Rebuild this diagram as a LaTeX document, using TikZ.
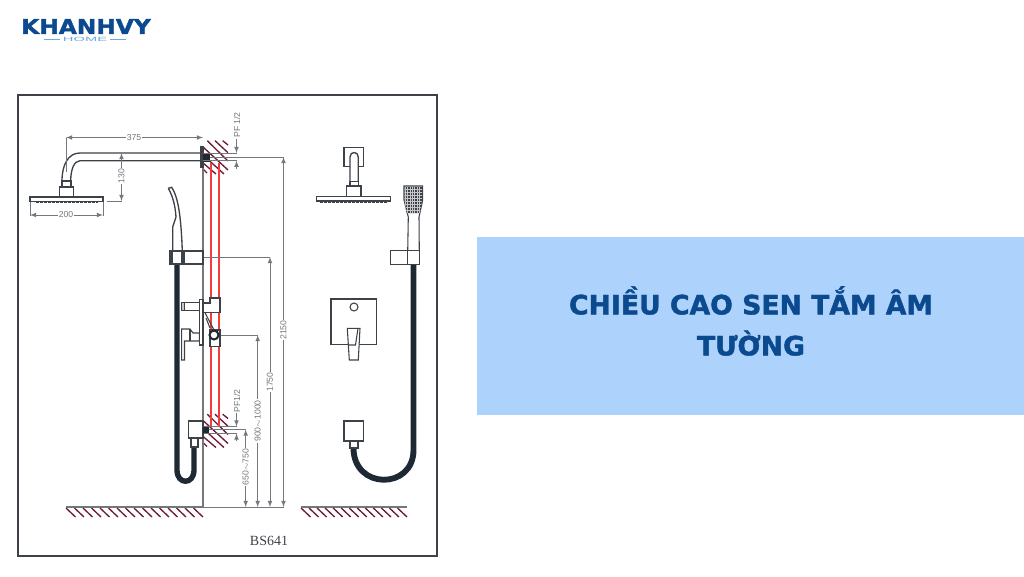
\documentclass[tikz,border=0pt]{standalone}
\usepackage{fontspec}
\setmainfont{Liberation Sans}
\newfontfamily\titlefont[BoldFeatures={FakeBold=1.6}]{DejaVu Sans}
\newfontfamily\modelfont{Liberation Serif}
\definecolor{brandblue}{HTML}{0B4A8F}
\definecolor{panelblue}{HTML}{ADD2FB}
\definecolor{homeblue}{HTML}{6FA8DC}
\definecolor{inkgray}{HTML}{3C4248}
\definecolor{dimgray}{HTML}{74787C}
\definecolor{hosedark}{HTML}{1F2933}
\definecolor{hatchred}{HTML}{6E1A38}
\definecolor{pipered}{HTML}{F53B3B}
\tikzset{
	ink/.style={draw=inkgray, line width=.8pt},
	dimline/.style={draw=dimgray, line width=.6pt},
	hatchline/.style={draw=hatchred, line width=1pt},
	hose/.style={draw=hosedark, line width=4pt},
	dimlabel/.style={fill=white, inner sep=.6pt, text=dimgray, font=\fontsize{6.5}{7}\selectfont},
}
\newcommand{\wbox}[4]{\draw[ink, fill=white] (#1,#2) rectangle (#3,#4);}
\newcommand{\dimv}[3]{\draw[dimline, latex-latex] (#1,#2) -- (#1,#3);}
\newcommand{\dimh}[3]{\draw[dimline, latex-latex] (#2,#1) -- (#3,#1);}
\newcommand{\wallhatch}[1]{
	\begin{scope}[shift={(0,#1)}]
		\draw[hatchline] (222.7,140.7) -- (228,145);
		\draw[hatchline] (215,140.7) -- (228,152.7);
		\draw[hatchline] (207.3,140.7) -- (228,161);
		\draw[hatchline] (203,147) -- (228,170);
		\draw[hatchline] (203,155) -- (224,174);
		\draw[hatchline] (203,163) -- (216,174);
		\draw[hatchline] (203,169) -- (207,173);
	\end{scope}
}
\newcommand{\ground}[3]{
	\draw[dimline, line width=.9pt] (#1,507) -- (#2,507);
	\foreach \n in {0,...,#3} {
		\draw[hatchline] (#1+\n*#2/#3-\n*#1/#3-\n*9.5/#3,508) -- (#1+\n*#2/#3-\n*#1/#3-\n*9.5/#3+9.5,517);
	}
}

\begin{document}
\begin{tikzpicture}[x=.75pt, y=-.75pt]
	\useasboundingbox (0,0) rectangle (1024,576);
	\fill[white] (0,0) rectangle (1024,576);

	\node[text=brandblue, font=\titlefont\bfseries\fontsize{15.2}{16}\selectfont, xscale=1.15, inner sep=0pt] (logo) at (86,26.5) {KHANHVY};
	\node[text=homeblue, font=\fontsize{4.6}{5}\selectfont, xscale=2.4, inner sep=0pt] (home) at (85,39.5) {HOME};
	\draw[homeblue, line width=1pt] (44,39.5) -- (60,39.5);
	\draw[homeblue, line width=1pt] (110,39.5) -- (126,39.5);

	\draw[inkgray, line width=1.1pt] (18,95) rectangle (437,556);

	\wallhatch{0}
	\wallhatch{273.5}
	\ground{66}{203}{15}
	\ground{301}{407}{12}

	\draw[pipered, line width=1.8pt] (211,163) -- (211,426);
	\draw[pipered, line width=1.3pt] (218.7,163) -- (218.7,426);

	\draw[dimline, line width=1.4pt] (203,147) -- (203,507);

	\draw[ink, line width=1pt] (203,153) -- (80,153) .. controls (68,153) and (62,165) .. (62,181);
	\draw[ink, line width=1pt] (203,160.7) -- (80,160.7) .. controls (74,160.7) and (70.7,170) .. (70.7,181);
	\wbox{62}{181}{71}{187}
	\wbox{59.5}{187}{73.5}{197}
	\wbox{30}{197}{103}{201.5}
	\draw[ink, dash pattern=on 2pt off 1pt] (36,202.5) -- (98,202.5);
	\draw[ink, fill=inkgray] (200.5,147) rectangle (203,167);
	\fill[hosedark] (203,153) rectangle (209.5,162);

	\dimh{137.5}{66}{203}
	\draw[dimline] (66,137.5) -- (66,172);
	\node[dimlabel] (lenarm) at (134,137.5) {375};
	\dimh{215}{30}{103}
	\draw[dimline] (30,201.5) -- (30,216);
	\draw[dimline] (103,201.5) -- (103,216);
	\node[dimlabel] (lenhead) at (66,215) {200};
	\dimv{121.5}{153}{201}
	\draw[dimline] (107,201) -- (121.5,201);
	\node[dimlabel, rotate=90] (lendrop) at (121.5,176) {130};

	\draw[dimline] (203,153) -- (237,153);
	\draw[dimline] (203,160.7) -- (237,160.7);
	\draw[dimline, -latex] (236.5,135) -- (236.5,153);
	\draw[dimline, -latex] (236.5,169) -- (236.5,160.7);
	\node[dimlabel, rotate=90] (pftop) at (237,125) {PF 1/2};
	\draw[dimline] (203,426.5) -- (237,426.5);
	\draw[dimline] (203,433.5) -- (237,433.5);
	\draw[dimline, -latex] (236.5,410) -- (236.5,426.5);
	\draw[dimline, -latex] (236.5,441) -- (236.5,433.5);
	\node[dimlabel, rotate=90] (pfbot) at (237,401) {PF1/2};

	\draw[dimline] (210,157) -- (284,157);
	\draw[dimline] (203,257) -- (270,257);
	\draw[dimline] (218,335) -- (258,335);
	\draw[dimline] (203,429.5) -- (246,429.5);
	\draw[dimline] (203,507) -- (284,507);
	\dimv{283.5}{157}{507}
	\dimv{270}{257}{507}
	\dimv{257.7}{335}{507}
	\dimv{245.7}{429.5}{507}
	\node[dimlabel, rotate=90] (hgttop) at (283.5,330) {2150};
	\node[dimlabel, rotate=90] (hgtbar) at (270,382) {1750};
	\node[dimlabel, rotate=90] (hgtmix) at (257.7,421) {900$\sim$1000};
	\node[dimlabel, rotate=90] (hgtout) at (245.7,467) {650$\sim$750};

	\draw[hose] (177,264) -- (177,470) .. controls (177,485) and (194,485) .. (194,470) -- (194,447);
	\wbox{188.3}{421}{203}{438}
	\draw[ink, fill=white, line width=1pt] (191,438) rectangle (198,447);
	\fill[hosedark] (203,426.5) rectangle (209,433);

	\draw[ink, line width=1pt] (168.3,188.3) .. controls (172,195) and (175,203) .. (176,217) -- (172.7,227) -- (172.7,251);
	\draw[ink, line width=1pt] (168.3,188.3) -- (171.7,187.3) .. controls (178,197) and (181,215) .. (182.3,251);
	\wbox{170}{251}{184}{264}
	\wbox{184}{251}{203}{264}
	\draw[ink] (172,251) -- (172,264);
	\draw[ink] (182,251) -- (182,264);

	\draw[ink, fill=white] (199.3,299.3) rectangle (203,345);
	\draw[ink, fill=white] (203,312.7) -- (203,303) -- (210,303) -- (210,298) -- (220,298) -- (220,312.7) -- cycle;
	\wbox{181.7}{302.7}{199.3}{310.7}
	\draw[ink, fill=inkgray!30] (181.7,302.7) rectangle (184.5,310.7);
	\draw[ink, fill=white] (181.7,329) -- (190,329) -- (193,333) -- (199.3,333) -- (199.3,341) -- (184.5,341) -- (184.5,360) -- (181.7,360) -- cycle;
	\draw[ink] (190,329) -- (190,341);
	\draw[ink] (206,318) -- (210,328);
	\draw[ink] (205,312.7) -- (214,330);
	\draw[ink, fill=white] (210,330) rectangle (220,346.7);
	\draw[draw=hosedark, fill=white, line width=1.5pt] (214,335) circle (4.5);

	\wbox{344}{147.3}{363.3}{166.7}
	\draw[ink, fill=white, line width=1pt] (350,181.7) -- (350,157) .. controls (350,151) and (358.3,151) .. (358.3,157) -- (358.3,181.7);
	\wbox{350}{181.7}{358.3}{186}
	\wbox{346.7}{186}{361}{196.7}
	\wbox{316.7}{196.7}{390.7}{201}
	\draw[ink, dash pattern=on 2pt off 1pt] (320,202) -- (387,202);

	\wbox{331}{299}{376.7}{344.3}
	\draw[ink, fill=white] (354,307) circle (4);
	\draw[ink, fill=white] (347.3,328.3) -- (360,328.3) -- (358.3,360) -- (349.3,360) -- cycle;
	\draw[ink] (358,328.3) -- (355.5,345) -- (349,345);

	\draw[hose, line width=4.4pt] (413.5,264) -- (413.5,450) .. controls (413.5,490) and (353.5,490) .. (353.5,448);
	\wbox{344}{421}{363.3}{441}
	\draw[ink, fill=white, line width=1pt] (350,441) rectangle (358,448);

	\draw[ink, fill=white] (404,186) -- (422.7,186) -- (422.7,200) -- (419,217) -- (419.3,251.7) -- (407.7,251.7) -- (408.3,217) -- (404,200) -- cycle;
	\begin{scope}
		\clip (404.5,187) -- (422.2,187) -- (422.2,200) -- (420,213) -- (406.7,213) -- (404.5,200) -- cycle;
		\fill[inkgray] (400,185) rectangle (425,215);
		\foreach \n in {0,...,7} {
			\draw[white!70!inkgray, line width=.3pt] (405+\n*2.4,185) -- (405+\n*2.4,215);
			\draw[white!70!inkgray, line width=.3pt] (400,189+\n*3) -- (425,189+\n*3);
		}
	\end{scope}
	\wbox{390.7}{250.7}{407.3}{264.3}
	\wbox{407.3}{250.7}{419.3}{264.3}

	\node[text=inkgray, font=\modelfont\fontsize{10.5}{12}\selectfont, inner sep=0pt] (model) at (269,541) {BS641};

	\fill[panelblue] (477,237) rectangle (1024,414.5);
	\node[text=brandblue, font=\titlefont\bfseries\fontsize{20}{30.75}\selectfont, align=center, inner sep=0pt] (title) at (751,321) {CHIỀU CAO SEN TẮM ÂM\\TƯỜNG};
\end{tikzpicture}
\end{document}
